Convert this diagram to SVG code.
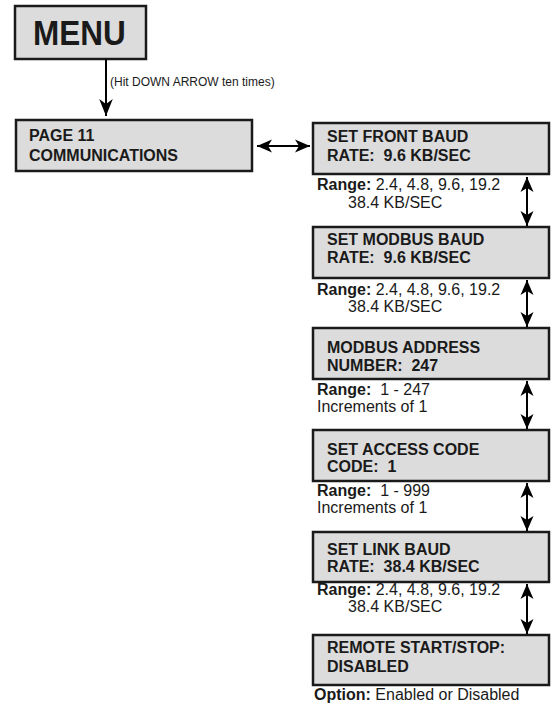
<svg xmlns="http://www.w3.org/2000/svg" width="553" height="705" viewBox="0 0 553 705">
<defs>
<marker id="ah" viewBox="-16 -7 17 14" refX="0" refY="0" markerWidth="17" markerHeight="14" markerUnits="userSpaceOnUse" orient="auto-start-reverse">
<path d="M0,0 L-15,-6.5 L-11,0 L-15,6.5 Z" fill="#000"/>
</marker>
<marker id="ahb" viewBox="-18 -8 19 16" refX="0" refY="0" markerWidth="19" markerHeight="16" markerUnits="userSpaceOnUse" orient="auto">
<path d="M0,0 L-17,-6.8 L-12,0 L-17,6.8 Z" fill="#000"/>
</marker>
<style>
text{white-space:pre}
.box{fill:#dcdcdc;stroke:#1a1a1a;stroke-width:2.5}
.bt{font-family:"Liberation Sans",Arial,sans-serif;font-weight:bold;font-size:16px;fill:#1a1a1a}
.rt{font-family:"Liberation Sans",Arial,sans-serif;font-size:16px;fill:#1a1a1a}
.b{font-weight:bold}
.con{stroke:#000;stroke-width:2;fill:none}
</style>
</defs>
<rect width="553" height="705" fill="#fff"/>
<g id="menu">
<rect class="box" x="15" y="6" width="131" height="53"/>
<text transform="translate(33,45) scale(0.9,1)" font-family="Liberation Sans,Arial,sans-serif" font-weight="bold" font-size="35" fill="#1a1a1a">MENU</text>
</g>
<g id="page11">
<rect class="box" x="16" y="120" width="236" height="51"/>
<text class="bt" x="29" y="141">PAGE 11</text>
<text class="bt" x="29" y="161">COMMUNICATIONS</text>
</g>
<g id="front-baud">
<rect class="box" x="313" y="123" width="236" height="51"/>
<text class="bt" x="327" y="142">SET FRONT BAUD</text>
<text class="bt" x="327" y="161" xml:space="preserve">RATE:  9.6 KB/SEC</text>
<text class="rt" xml:space="preserve"><tspan x="317" y="190"><tspan class="b">Range:</tspan> 2.4, 4.8, 9.6, 19.2</tspan><tspan x="348" y="208">38.4 KB/SEC</tspan></text>
</g>
<g id="modbus-baud">
<rect class="box" x="313" y="227" width="236" height="51"/>
<text class="bt" x="327" y="245">SET MODBUS BAUD</text>
<text class="bt" x="327" y="263" xml:space="preserve">RATE:  9.6 KB/SEC</text>
<text class="rt" xml:space="preserve"><tspan x="317" y="295"><tspan class="b">Range:</tspan> 2.4, 4.8, 9.6, 19.2</tspan><tspan x="348" y="312">38.4 KB/SEC</tspan></text>
</g>
<g id="modbus-address">
<rect class="box" x="313" y="328" width="236" height="51"/>
<text class="bt" x="327" y="353">MODBUS ADDRESS</text>
<text class="bt" x="327" y="371" xml:space="preserve">NUMBER:  247</text>
<text class="rt" xml:space="preserve"><tspan x="317" y="395"><tspan class="b">Range:</tspan>  1 - 247</tspan><tspan x="317" y="412">Increments of 1</tspan></text>
</g>
<g id="access-code">
<rect class="box" x="313" y="430" width="236" height="51"/>
<text class="bt" x="327" y="455">SET ACCESS CODE</text>
<text class="bt" x="327" y="472" xml:space="preserve">CODE:  1</text>
<text class="rt" xml:space="preserve"><tspan x="317" y="496"><tspan class="b">Range:</tspan>  1 - 999</tspan><tspan x="317" y="513">Increments of 1</tspan></text>
</g>
<g id="link-baud">
<rect class="box" x="313" y="532" width="236" height="50"/>
<text class="bt" x="327" y="555">SET LINK BAUD</text>
<text class="bt" x="327" y="572" xml:space="preserve">RATE:  38.4 KB/SEC</text>
<text class="rt" xml:space="preserve"><tspan x="317" y="595"><tspan class="b">Range:</tspan> 2.4, 4.8, 9.6, 19.2</tspan><tspan x="348" y="612">38.4 KB/SEC</tspan></text>
</g>
<g id="remote">
<rect class="box" x="313" y="635" width="236" height="50"/>
<text class="bt" x="327" y="653">REMOTE START/STOP:</text>
<text class="bt" x="327" y="672">DISABLED</text>
<text class="rt" x="314" y="700" xml:space="preserve"><tspan class="b">Option:</tspan> Enabled or Disabled</text>
</g>
<g id="connectors">
<line class="con" x1="106" y1="59" x2="106" y2="116" marker-end="url(#ahb)"/>
<text x="110" y="86" font-family="Liberation Sans,Arial,sans-serif" font-size="12" fill="#1a1a1a">(Hit DOWN ARROW ten times)</text>
<line class="con" x1="257" y1="146" x2="310" y2="146" marker-start="url(#ah)" marker-end="url(#ah)"/>
<line class="con" x1="527" y1="177" x2="527" y2="226" marker-start="url(#ah)" marker-end="url(#ah)"/>
<line class="con" x1="527" y1="280" x2="527" y2="327" marker-start="url(#ah)" marker-end="url(#ah)"/>
<line class="con" x1="527" y1="381" x2="527" y2="429" marker-start="url(#ah)" marker-end="url(#ah)"/>
<line class="con" x1="527" y1="483" x2="527" y2="531" marker-start="url(#ah)" marker-end="url(#ah)"/>
<line class="con" x1="527" y1="584" x2="527" y2="634" marker-start="url(#ah)" marker-end="url(#ah)"/>
</g>
</svg>
